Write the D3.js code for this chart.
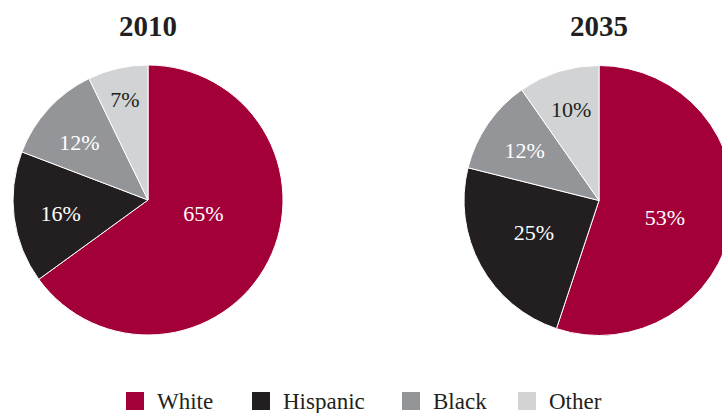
<!DOCTYPE html>
<html><head><meta charset="utf-8">
<script src="https://cdn.jsdelivr.net/npm/d3@7"></script>
<style>html,body{margin:0;padding:0;background:#fff;overflow:hidden}</style>
</head><body>
<svg id="chart" width="722" height="413"></svg>
<script>
const categories = ["White", "Hispanic", "Black", "Other"];
const years = ["2010", "2035"];
// slice shares as drawn in the picture
const values2010 = [65, 15.8, 12, 7.2];
const values2035 = [55.1, 23.8, 11.4, 9.7];
// printed labels
const labels2010 = ["65%", "16%", "12%", "7%"];
const labels2035 = ["53%", "25%", "12%", "10%"];
const colors = ["#a3003a", "#231f20", "#939598", "#d1d3d4"];
const labelColors = ["#ffffff", "#ffffff", "#ffffff", "#231f20"];

// layout config
const R = 135;
const centers = [[148, 200], [599, 200.5]];
const labelNudges = [
  [[5, -12], [1, 2], [-3, 2], [-3, -14]],
  [[10, 8], [13, -11], [-1, 0.5], [-1, -6]]
];
const font = "'Liberation Serif', 'Times New Roman', serif";

const svg = d3.select("#chart");
const pie = d3.pie().sort(null).value(d => d);
const arc = d3.arc().innerRadius(0).outerRadius(R);
const labelArcSmall = d3.arc().innerRadius(R * 0.66).outerRadius(R * 0.66);
const labelArcBig = d3.arc().innerRadius(R * 0.42).outerRadius(R * 0.42);
const allLabels = [labels2010, labels2035];

[values2010, values2035].forEach((vals, i) => {
  const g = svg.append("g").attr("transform", `translate(${centers[i][0]},${centers[i][1]})`);
  const arcs = pie(vals);
  g.selectAll("path").data(arcs).join("path")
    .attr("d", arc)
    .attr("fill", (d, j) => colors[j])
    .attr("stroke", "#fff")
    .attr("stroke-width", 1);
  g.selectAll("text.lbl").data(arcs).join("text")
    .attr("class", "lbl")
    .attr("transform", (d, j) => {
      const c = (d.data > 50 ? labelArcBig : labelArcSmall).centroid(d);
      const n = labelNudges[i][j];
      return `translate(${c[0] + n[0]},${c[1] + n[1]})`;
    })
    .attr("text-anchor", "middle")
    .attr("dy", "0.35em")
    .attr("font-family", font)
    .attr("font-size", 22)
    .attr("fill", (d, j) => labelColors[j])
    .text((d, j) => allLabels[i][j]);
  svg.append("text")
    .attr("x", centers[i][0])
    .attr("y", 36)
    .attr("text-anchor", "middle")
    .attr("font-family", font)
    .attr("font-weight", "bold")
    .attr("font-size", 29)
    .attr("fill", "#231f20")
    .text(years[i]);
});

// legend
const legendX = [126, 252, 402, 518];
const leg = svg.append("g");
categories.forEach((c, j) => {
  leg.append("rect").attr("x", legendX[j]).attr("y", 392).attr("width", 18).attr("height", 18).attr("fill", colors[j]);
  leg.append("text").attr("x", legendX[j] + 31).attr("y", 409)
    .attr("font-family", font).attr("font-size", 23).attr("fill", "#231f20").text(c);
});
</script>
</body></html>
